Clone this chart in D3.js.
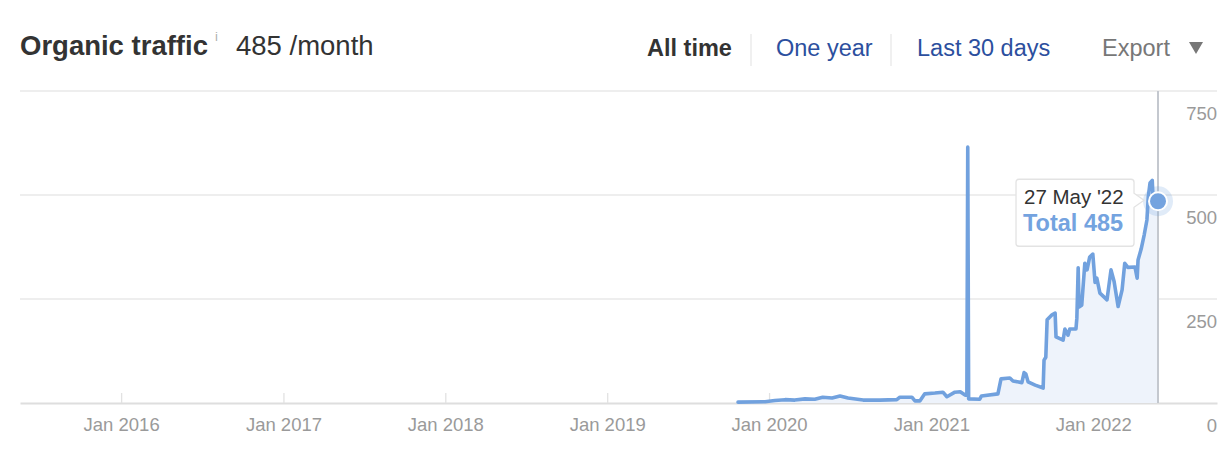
<!DOCTYPE html>
<html>
<head>
<meta charset="utf-8">
<script src="https://cdn.jsdelivr.net/npm/d3@7"></script>
<style>
  html, body { margin: 0; padding: 0; background: #ffffff; }
  svg { display: block; font-family: "Liberation Sans", Arial, Helvetica, sans-serif; }
</style>
</head>
<body>
<svg id="chart" width="1230" height="470"></svg>
<script>
// ---------- data ----------
const dates = ["2019-10-23","2019-12-23","2020-01-14","2020-02-06","2020-02-28","2020-03-22","2020-04-13","2020-05-01","2020-05-22","2020-06-09","2020-06-27","2020-07-31","2020-09-07","2020-10-15","2020-10-22","2020-11-18","2020-11-25","2020-12-06","2020-12-17","2021-01-09","2021-01-27","2021-02-05","2021-02-23","2021-03-07","2021-03-18","2021-03-22","2021-03-24","2021-03-26","2021-04-20","2021-04-24","2021-05-31","2021-06-07","2021-06-27","2021-07-04","2021-07-24","2021-07-29","2021-08-02","2021-08-07","2021-08-23","2021-09-10","2021-09-12","2021-09-16","2021-09-19","2021-09-30","2021-10-07","2021-10-09","2021-10-25","2021-10-29","2021-11-05","2021-11-09","2021-11-23","2021-11-25","2021-11-28","2021-11-30","2021-12-06","2021-12-13","2021-12-18","2021-12-24","2021-12-31","2022-01-05","2022-01-09","2022-01-16","2022-01-25","2022-02-01","2022-02-10","2022-02-17","2022-02-26","2022-03-07","2022-03-13","2022-03-20","2022-04-05","2022-04-10","2022-04-12","2022-04-19","2022-04-26","2022-05-02","2022-05-05","2022-05-09","2022-05-14","2022-05-16","2022-05-27"];
const traffic = [2,3,6,8,7,10,9,14,12,17,12,7,7,8,14,14,5,5,22,24,26,15,26,27,19,19,615,10,9,17,22,58,60,53,49,73,70,51,43,36,103,110,200,212,216,159,151,178,163,178,178,204,325,231,235,336,320,351,358,290,300,264,255,248,320,292,232,272,336,326,327,300,344,370,405,440,495,529,535,488,485];
const xTickDates = ["2016-01-01","2017-01-01","2018-01-01","2019-01-01","2020-01-01","2021-01-01","2022-01-01"];
const xTickLabels = ["Jan 2016","Jan 2017","Jan 2018","Jan 2019","Jan 2020","Jan 2021","Jan 2022"];
const yTicks = [0, 250, 500, 750];
const xDomain = ["2015-05-18", "2022-10-07"];
const hoverDate = "27 May '22";
const hoverValue = 485;
const menuItems = ["All time", "One year", "Last 30 days"];

// ---------- setup ----------
const parse = d3.timeParse("%Y-%m-%d");
const data = dates.map((d, i) => ({ date: parse(d), value: traffic[i] }));
const svg = d3.select("#chart");

const plotLeft = 20, plotRight = 1217, plotTop = 91, plotBottom = 403;
const x = d3.scaleTime().domain(xDomain.map(parse)).range([plotLeft, plotRight]);
const y = d3.scaleLinear().domain([0, 750]).range([plotBottom, plotTop]);

// ---------- header ----------
const header = svg.append("g");
header.append("text").attr("x", 20).attr("y", 55)
  .attr("font-size", 27.5).attr("font-weight", "bold").attr("fill", "#333")
  .text("Organic traffic");
header.append("text").attr("x", 215).attr("y", 41)
  .attr("font-size", 13).attr("fill", "#b0b0b0").text("i");
header.append("text").attr("x", 236).attr("y", 55)
  .attr("font-size", 27.5).attr("fill", "#333").text(hoverValue + " /month");

const menuX = [647, 776, 917];
const menuColors = ["#333", "#2c4f9e", "#2c4f9e"];
menuItems.forEach((m, i) => {
  header.append("text").attr("x", menuX[i]).attr("y", 56)
    .attr("font-size", 23.5).attr("font-weight", i === 0 ? "bold" : "normal")
    .attr("fill", menuColors[i]).text(m);
});
[751, 891].forEach(sx => {
  header.append("line").attr("x1", sx).attr("x2", sx).attr("y1", 34).attr("y2", 66)
    .attr("stroke", "#e6e6e6").attr("stroke-width", 1.2);
});
header.append("text").attr("x", 1102).attr("y", 56)
  .attr("font-size", 23.5).attr("fill", "#777").text("Export");
header.append("path").attr("d", "M1189,42 L1203,42 L1196,54 Z").attr("fill", "#777");

// ---------- grid ----------
const grid = svg.append("g");
grid.selectAll("line").data(yTicks.filter(t => t > 0)).join("line")
  .attr("x1", plotLeft).attr("x2", plotRight)
  .attr("y1", d => y(d)).attr("y2", d => y(d))
  .attr("stroke", "#e8e8e8").attr("stroke-width", 1.3);

// x axis
const xAxis = d3.axisBottom(x)
  .tickValues(xTickDates.map(parse))
  .tickFormat((d, i) => xTickLabels[i])
  .tickSizeInner(-10).tickSizeOuter(0).tickPadding(15);
const gx = svg.append("g").attr("transform", `translate(0,${plotBottom})`).call(xAxis);
gx.select(".domain").attr("stroke", "#dedede").attr("stroke-width", 2);
gx.selectAll(".tick line").attr("stroke", "#e2e2e2").attr("stroke-width", 1.3);
gx.selectAll(".tick text").attr("fill", "#9a9a9a").attr("font-size", 18.5)
  .attr("font-family", "Liberation Sans, Arial, sans-serif");

// y axis labels (right, below grid lines)
const yAxis = d3.axisRight(y).tickValues(yTicks).tickSize(0).tickPadding(0);
const gy = svg.append("g").attr("transform", `translate(${plotRight},0)`).call(yAxis);
gy.select(".domain").remove();
gy.selectAll(".tick text").attr("fill", "#9a9a9a").attr("font-size", 18.5)
  .attr("text-anchor", "end").attr("dy", 28.5)
  .attr("font-family", "Liberation Sans, Arial, sans-serif");

// ---------- series ----------
const area = d3.area().x(d => x(d.date)).y0(plotBottom).y1(d => y(d.value));
const line = d3.line().x(d => x(d.date)).y(d => y(d.value));
svg.append("path").datum(data).attr("d", area).attr("fill", "#eef3fb");
svg.append("path").datum(data).attr("d", line)
  .attr("fill", "none").attr("stroke", "#71a1de").attr("stroke-width", 3.6)
  .attr("stroke-linejoin", "round").attr("stroke-linecap", "round");

// ---------- hover ----------
const last = data[data.length - 1];
const px = x(last.date), py = y(last.value);
svg.append("line").attr("x1", px).attr("x2", px).attr("y1", plotTop).attr("y2", plotBottom)
  .attr("stroke", "#c4c8cf").attr("stroke-width", 2);
svg.append("circle").attr("cx", px).attr("cy", py).attr("r", 15)
  .attr("fill", "#74a3df").attr("opacity", 0.22);
svg.append("circle").attr("cx", px).attr("cy", py).attr("r", 9)
  .attr("fill", "#74a3df").attr("stroke", "#fff").attr("stroke-width", 2);

// tooltip
const tipR = px - 24, tipL = tipR - 118, tipT = py - 22, tipB = py + 45;
const ay = py - 1;
svg.append("path")
  .attr("d", `M${tipL + 3},${tipT} L${tipR - 3},${tipT} Q${tipR},${tipT} ${tipR},${tipT + 3}
    L${tipR},${ay - 7} L${px - 14},${ay} L${tipR},${ay + 7}
    L${tipR},${tipB - 3} Q${tipR},${tipB} ${tipR - 3},${tipB} L${tipL + 3},${tipB}
    Q${tipL},${tipB} ${tipL},${tipB - 3} L${tipL},${tipT + 3} Q${tipL},${tipT} ${tipL + 3},${tipT} Z`)
  .attr("fill", "rgba(255,255,255,0.95)").attr("stroke", "#e3e3e3").attr("stroke-width", 1.3);
svg.append("text").attr("x", tipL + 8).attr("y", tipT + 25)
  .attr("font-size", 20.5).attr("fill", "#333").text(hoverDate);
svg.append("text").attr("x", tipL + 7).attr("y", tipT + 52)
  .attr("font-size", 23.5).attr("font-weight", "bold").attr("fill", "#74a3df")
  .text("Total " + hoverValue);
</script>
</body>
</html>
